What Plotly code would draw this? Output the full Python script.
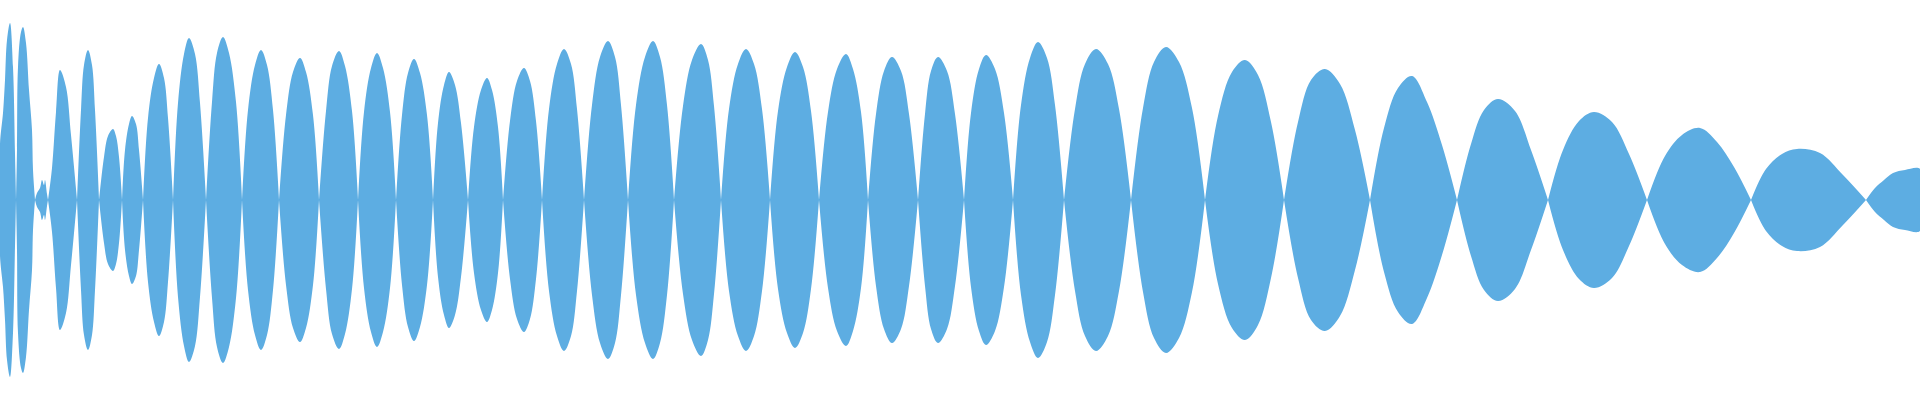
import plotly.graph_objects as go

# Hüllkurve der Wellenform: Zeit in ms, Amplitude in Pixeln der halben Höhe (0..200)
t_ms = [
    0, 0, 3, 5, 7, 10, 13, 15, 16,
    17, 18, 21, 23, 26, 29, 32, 33, 35,
    37, 40, 42, 44, 45, 47, 48,
    52, 56, 60, 66, 71, 77,
    81, 84, 88, 92, 95, 99,
    104, 108, 113, 116, 119, 122,
    125, 129, 132, 136, 139, 143,
    148, 154, 159, 164, 168, 173,
    178, 184, 189, 195, 200, 206,
    212, 217, 223, 229, 236, 242,
    248, 255, 261, 267, 273, 279,
    286, 293, 300, 306, 313, 319,
    326, 332, 339, 345, 352, 358,
    364, 371, 377, 383, 390, 396,
    402, 408, 414, 420, 427, 433,
    438, 444, 449, 455, 461, 468,
    474, 481, 487, 492, 498, 503,
    510, 517, 524, 530, 536, 542,
    549, 557, 564, 571, 577, 584,
    592, 600, 608, 615, 621, 628,
    636, 645, 653, 660, 667, 674,
    683, 692, 701, 708, 714, 721,
    729, 738, 746, 754, 762, 770,
    778, 787, 795, 803, 811, 819,
    828, 837, 846, 853, 861, 868,
    876, 884, 892, 901, 909, 918,
    925, 931, 938, 947, 955, 964,
    971, 979, 986, 995, 1004, 1013,
    1021, 1030, 1038, 1047, 1055, 1064,
    1075, 1085, 1096, 1108, 1119, 1131,
    1143, 1154, 1166, 1179, 1192, 1205,
    1218, 1232, 1245, 1258, 1271, 1284,
    1298, 1311, 1325, 1340, 1355, 1370,
    1384, 1398, 1412, 1427, 1442, 1457,
    1471, 1484, 1498, 1515, 1531, 1548,
    1563, 1579, 1594, 1612, 1629, 1647,
    1665, 1682, 1700, 1717, 1734, 1751,
    1766, 1782, 1797, 1820, 1843, 1866,
    1875, 1884, 1893, 1905, 1920, 1920,
]
amplitude = [
    0, 56, 87, 120, 160, 177, 133, 46, 0,
    50, 133, 168, 173, 157, 110, 70, 30, 0,
    7, 12, 20, 15, 20, 6, 0,
    32, 88, 130, 113, 65, 0,
    90, 135, 150, 135, 90, 0,
    43, 64, 71, 64, 43, 0,
    50, 76, 84, 76, 50, 0,
    82, 122, 136, 122, 82, 0,
    97, 146, 162, 146, 97, 0,
    98, 147, 163, 147, 98, 0,
    90, 135, 150, 135, 90, 0,
    85, 128, 142, 128, 85, 0,
    89, 134, 149, 134, 89, 0,
    88, 132, 147, 132, 88, 0,
    85, 127, 141, 127, 85, 0,
    77, 115, 128, 115, 77, 0,
    73, 110, 122, 110, 73, 0,
    79, 119, 132, 119, 79, 0,
    91, 136, 151, 136, 91, 0,
    95, 143, 159, 143, 95, 0,
    95, 143, 159, 143, 95, 0,
    94, 140, 156, 140, 94, 0,
    91, 136, 151, 136, 91, 0,
    89, 133, 148, 133, 89, 0,
    88, 131, 146, 131, 88, 0,
    86, 129, 143, 129, 86, 0,
    86, 129, 143, 129, 86, 0,
    87, 131, 145, 131, 87, 0,
    95, 142, 158, 142, 95, 0,
    91, 136, 151, 136, 91, 0,
    92, 138, 153, 138, 92, 0,
    84, 128, 140, 125, 78, 0,
    78, 120, 131, 116, 70, 0,
    72, 112, 124, 98, 55, 0,
    56, 90, 101, 89, 50, 0,
    50, 79, 88, 78, 46, 0,
    44, 65, 72, 58, 33, 0,
    31, 46, 51, 47, 25, 0,
    12, 20, 27, 30, 31, 0,
]

WAVE_COLOR = "#5DADE2"


def lobe_segments(t, amp):
    """Teilt die Hüllkurve an den Nullstellen in Bögen, oben und gespiegelt unten."""
    xs, ys = [], []
    start = 0
    for i in range(1, len(amp)):
        if amp[i] == 0:
            seg_t = t[start:i + 1]
            seg_a = amp[start:i + 1]
            for sign in (1, -1):
                xs += seg_t + [None]
                ys += [sign * v for v in seg_a] + [None]
            start = i
    return xs, ys


x, y = lobe_segments(t_ms, amplitude)

fig = go.Figure()
fig.add_trace(go.Scatter(
    x=x, y=y,
    mode="lines",
    line=dict(width=0, shape="spline", smoothing=1, color=WAVE_COLOR),
    fill="toself",
    fillcolor=WAVE_COLOR,
    hoverinfo="skip",
))
fig.update_layout(
    width=1920, height=400,
    margin=dict(l=0, r=0, t=0, b=0),
    paper_bgcolor="white",
    plot_bgcolor="white",
    showlegend=False,
    xaxis=dict(range=[0, 1920], visible=False, fixedrange=True),
    yaxis=dict(range=[-200, 200], visible=False, fixedrange=True),
)
fig.write_html("out.html", config={"displayModeBar": False},
               post_script="document.body.style.margin='0';")
